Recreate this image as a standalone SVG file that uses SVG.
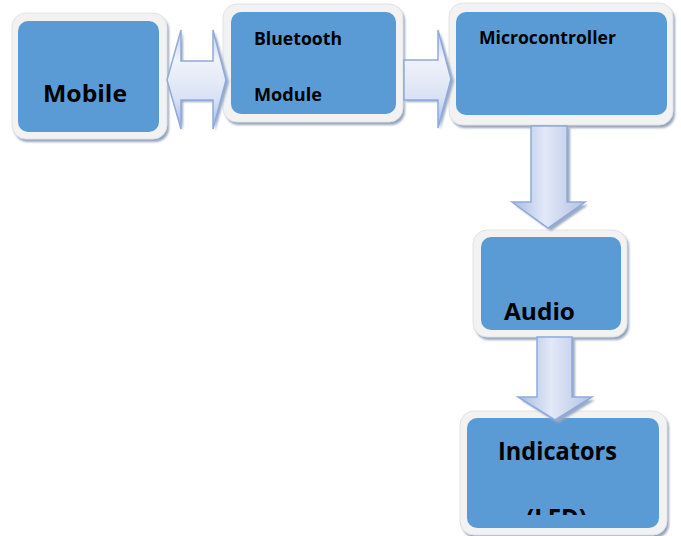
<svg xmlns="http://www.w3.org/2000/svg" width="681" height="536" viewBox="0 0 681 536">
  <defs>
    <filter id="soft" x="-10%" y="-10%" width="130%" height="130%">
      <feGaussianBlur stdDeviation="0.9"/>
    </filter>
    <linearGradient id="gradH" x1="0" y1="0" x2="0" y2="1">
      <stop offset="0" stop-color="#c3d0ed"/>
      <stop offset="0.3" stop-color="#f0f3fb"/>
      <stop offset="0.7" stop-color="#d9e2f4"/>
      <stop offset="1" stop-color="#a7b9e2"/>
    </linearGradient>
    <linearGradient id="gradV" x1="0" y1="0" x2="1" y2="0">
      <stop offset="0" stop-color="#a9bbe2"/>
      <stop offset="0.45" stop-color="#e2e9f7"/>
      <stop offset="1" stop-color="#b3c3e6"/>
    </linearGradient>
    <clipPath id="clipAudio"><rect x="481" y="237" width="140" height="84"/></clipPath>
    <clipPath id="clipLed"><rect x="467" y="418" width="192" height="97"/></clipPath>
  </defs>
  <style>
    .shadow { fill: #95a5bf; filter: url(#soft); }
    .frame { fill: #f2f2f2; stroke: #e2e2e2; stroke-width: 1; }
    .body { fill: #5b9bd5; }
    .label { font-family: "Open Sans", "Liberation Sans", sans-serif; font-weight: bold; fill: #000; }
    .arrowH { fill: url(#gradH); stroke: #8faadc; stroke-width: 1.5; stroke-linejoin: miter; }
    .arrowV { fill: url(#gradV); stroke: #8faadc; stroke-width: 1.5; stroke-linejoin: miter; }
    .ashadow { fill: #9aa9c3; filter: url(#soft); }
  </style>

  <!-- Mobile -->
  <g id="mobile">
    <rect class="shadow" x="14" y="16" width="155" height="126" rx="14"/>
    <rect class="frame" x="12" y="13" width="155" height="126" rx="14"/>
    <rect class="body" x="18" y="21" width="141" height="111" rx="10"/>
    <text class="label" x="43" y="102" font-size="22.5" textLength="84" lengthAdjust="spacingAndGlyphs">Mobile</text>
  </g>

  <!-- Bluetooth module -->
  <g id="bluetooth">
    <rect class="shadow" x="225" y="7" width="180" height="118" rx="14"/>
    <rect class="frame" x="223" y="4" width="180" height="118" rx="14"/>
    <rect class="body" x="231" y="12" width="165" height="102" rx="10"/>
    <text class="label" x="254" y="45" font-size="17" textLength="88" lengthAdjust="spacingAndGlyphs">Bluetooth</text>
    <text class="label" x="254" y="101" font-size="17" textLength="68" lengthAdjust="spacingAndGlyphs">Module</text>
  </g>

  <!-- Microcontroller -->
  <g id="microcontroller">
    <rect class="shadow" x="451" y="6" width="224" height="122" rx="14"/>
    <rect class="frame" x="449" y="3" width="224" height="122" rx="14"/>
    <rect class="body" x="456" y="12" width="211" height="103" rx="10"/>
    <text class="label" x="479" y="44" font-size="17.5" textLength="137" lengthAdjust="spacingAndGlyphs">Microcontroller</text>
  </g>

  <!-- Audio -->
  <g id="audio">
    <rect class="shadow" x="475" y="233" width="154" height="107" rx="14"/>
    <rect class="frame" x="473" y="230" width="154" height="107" rx="14"/>
    <rect class="body" x="481" y="237" width="140" height="93" rx="10"/>
    <text class="label" x="504" y="320" font-size="24" textLength="71" lengthAdjust="spacingAndGlyphs" clip-path="url(#clipAudio)">Audio</text>
  </g>

  <!-- Indicators (LED) -->
  <g id="indicators">
    <rect class="shadow" x="462" y="414" width="207" height="124" rx="14"/>
    <rect class="frame" x="460" y="411" width="207" height="124" rx="14"/>
    <rect class="body" x="467" y="418" width="192" height="110" rx="10"/>
    <text class="label" x="498" y="460" font-size="25" textLength="119" lengthAdjust="spacingAndGlyphs">Indicators</text>
    <text class="label" x="526" y="527" font-size="25" textLength="61" lengthAdjust="spacingAndGlyphs" clip-path="url(#clipLed)">(LED)</text>
  </g>

  <!-- Connectors -->
  <g id="connectors">
    <!-- Mobile <-> Bluetooth -->
    <path class="ashadow" d="M169,82 L183,32 L183,63 L215,63 L215,32 L229,82 L215,131 L215,102 L183,102 L183,131 Z"/>
    <path class="arrowH" d="M167,80 L181,30 L181,61 L213,61 L213,30 L226,80 L213,129 L213,100 L181,100 L181,129 Z"/>
    <!-- Bluetooth -> Microcontroller -->
    <path class="ashadow" d="M406,62 L440,62 L440,32 L454,81 L440,130 L440,102 L406,102 Z"/>
    <path class="arrowH" d="M404,60 L438,60 L438,30 L451,79 L438,128 L438,100 L404,100 Z"/>
    <!-- Microcontroller -> Audio -->
    <path class="ashadow" d="M534,128 L570,128 L570,205 L588,205 L551,231 L515,205 L534,205 Z"/>
    <path class="arrowV" d="M531,126 L567,126 L567,202 L585,202 L548,228 L512,202 L531,202 Z"/>
    <!-- Audio -> Indicators -->
    <path class="ashadow" d="M540,339 L575,339 L575,400 L595,400 L558,423 L521,400 L540,400 Z"/>
    <path class="arrowV" d="M537,337 L572,337 L572,397 L592,397 L555,420 L518,397 L537,397 Z"/>
  </g>
</svg>
